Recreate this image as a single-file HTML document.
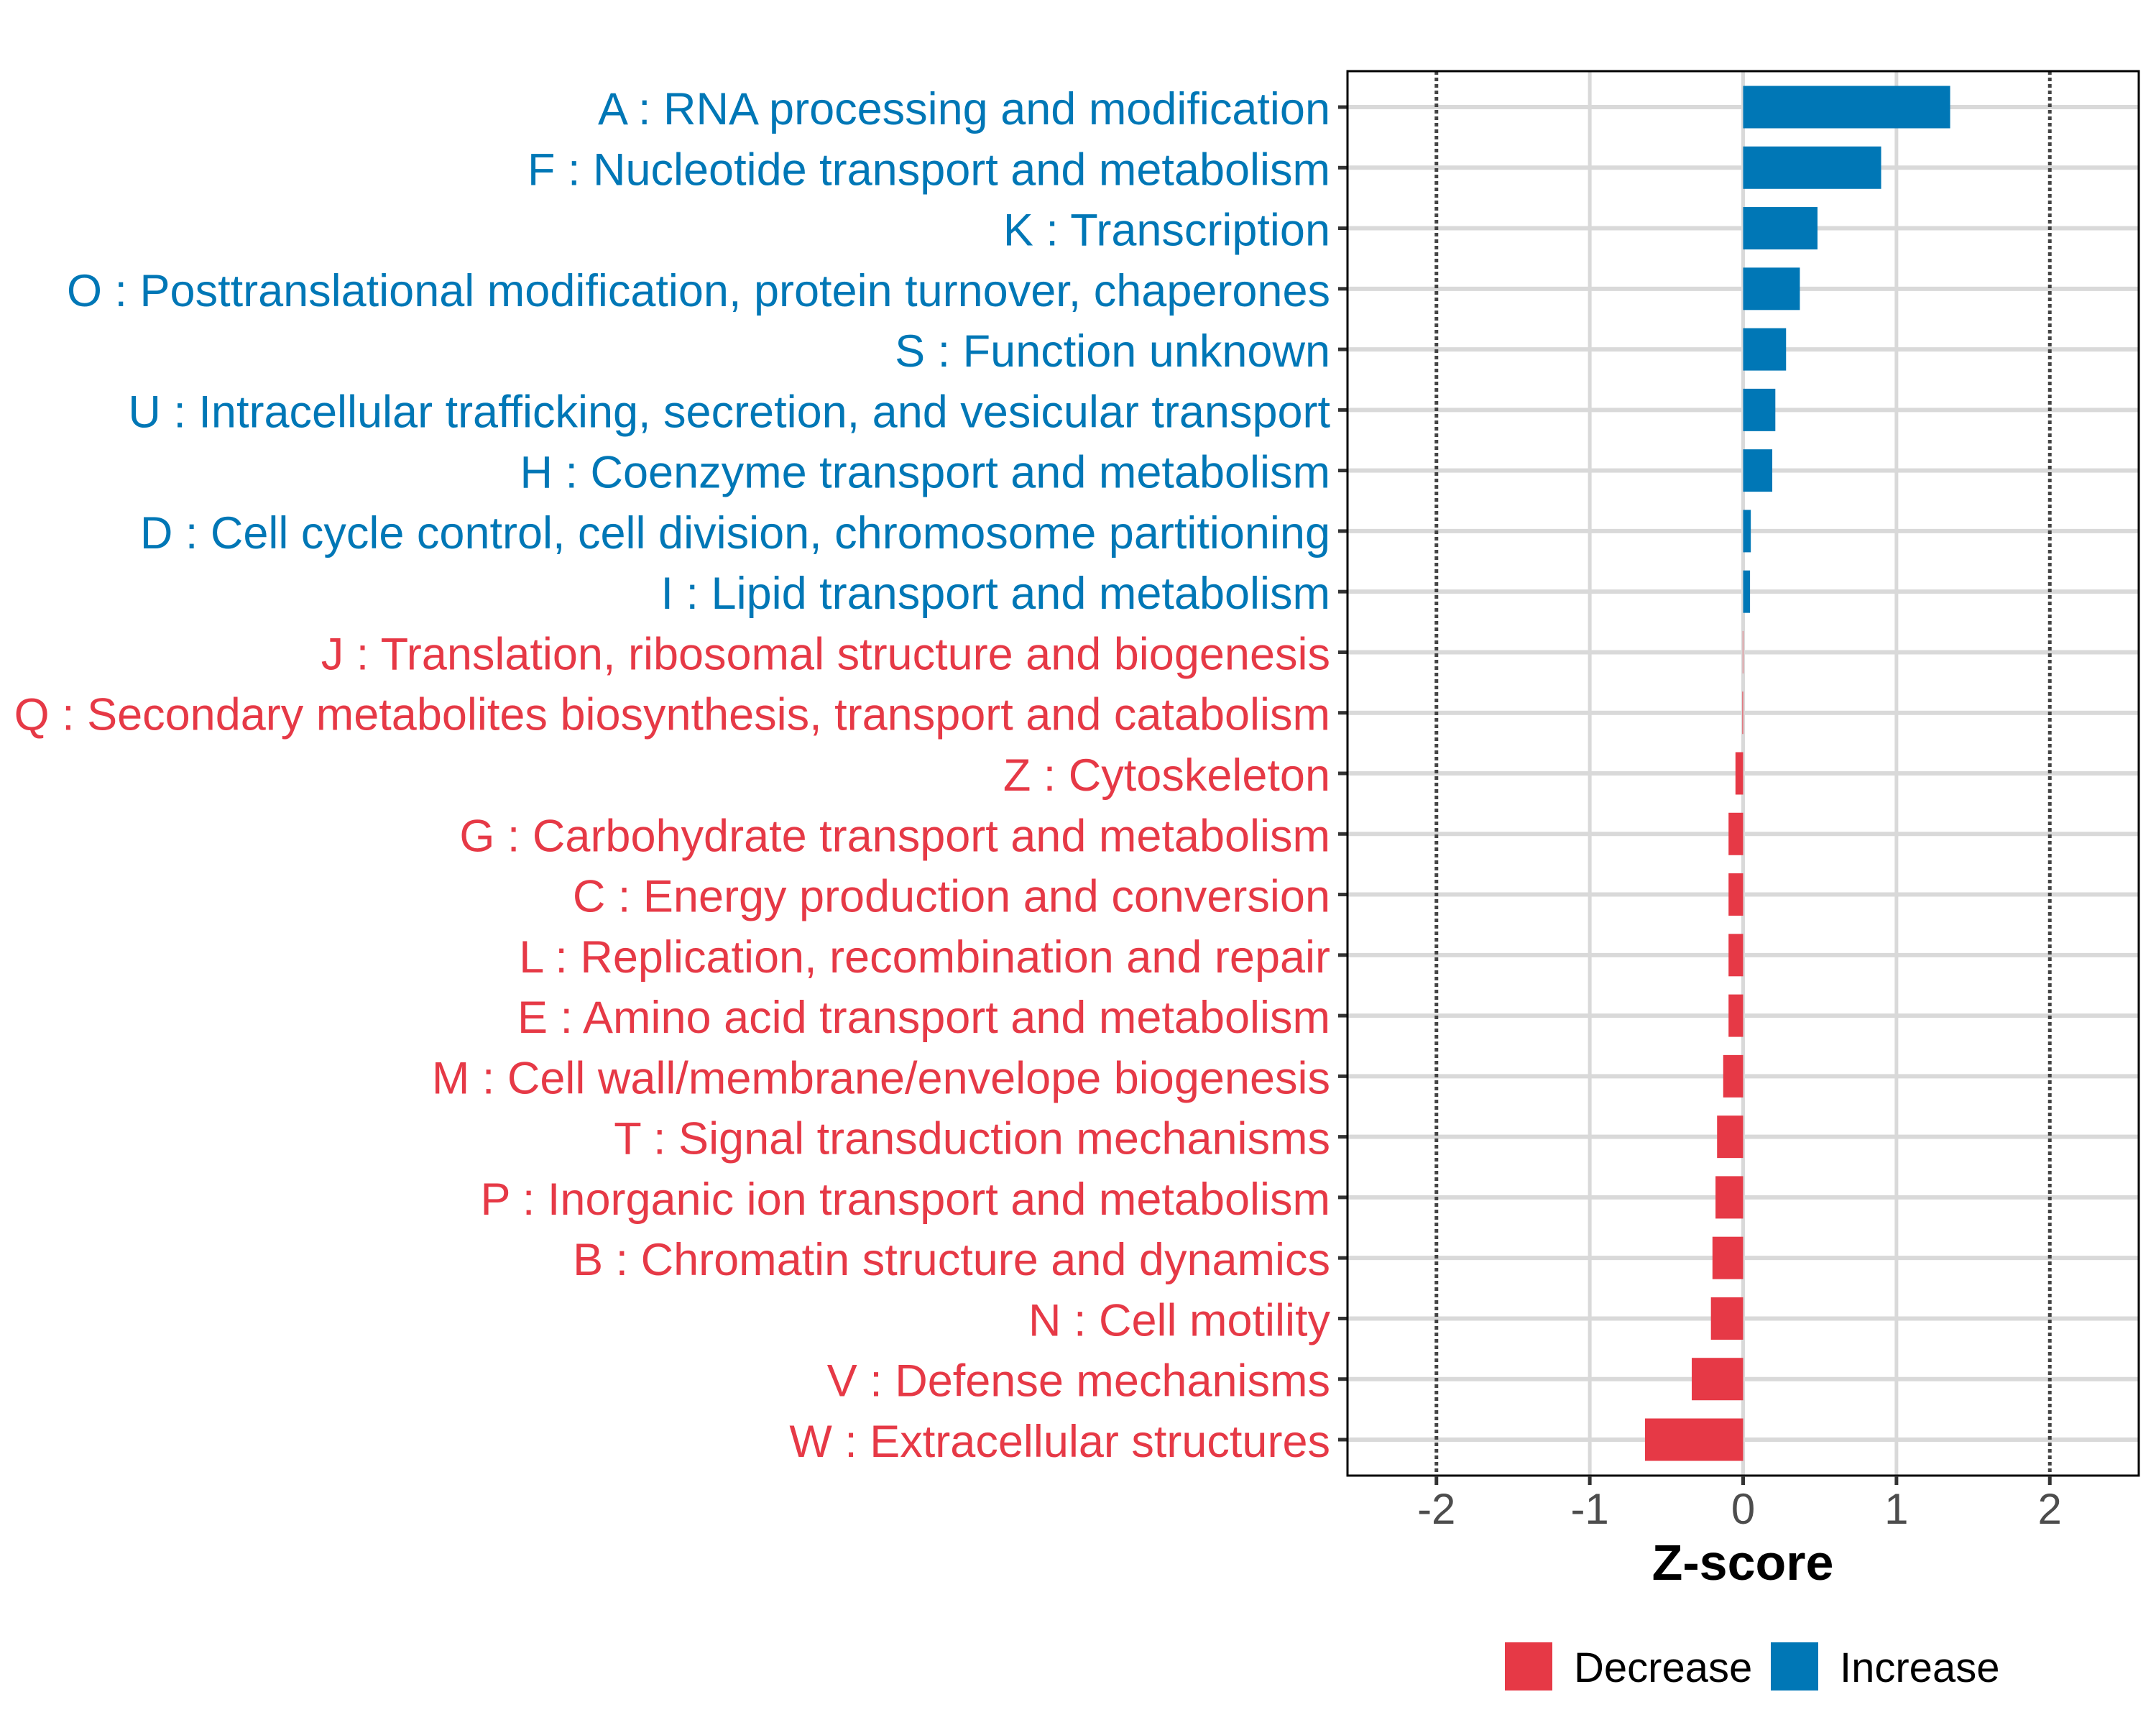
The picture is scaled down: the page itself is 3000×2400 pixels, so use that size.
<!DOCTYPE html>
<html><head><meta charset="utf-8"><style>
html,body{margin:0;padding:0;background:#fff;}
svg{display:block;font-family:"Liberation Sans",Arial,sans-serif;}
</style></head><body>
<svg id="chart" width="3000" height="2400" viewBox="0 0 3000 2400" xmlns="http://www.w3.org/2000/svg">
<rect width="3000" height="2400" fill="#fff"/>
<g id="grid"></g><g id="bars"></g><g id="axes"></g><g id="labels"></g>
<text x="2425" y="2198" font-size="70" font-weight="bold" text-anchor="middle" fill="#000">Z-score</text>
<g>
<rect x="2094" y="2285" width="66" height="67" fill="#E63946"/>
<text x="2190" y="2340" font-size="58" fill="#000">Decrease</text>
<rect x="2464" y="2285" width="66" height="67" fill="#0077B6"/>
<text x="2560" y="2340" font-size="58" fill="#000">Increase</text>
</g>
</svg>
<script>
const categories=["A : RNA processing and modification","F : Nucleotide transport and metabolism","K : Transcription","O : Posttranslational modification, protein turnover, chaperones","S : Function unknown","U : Intracellular trafficking, secretion, and vesicular transport","H : Coenzyme transport and metabolism","D : Cell cycle control, cell division, chromosome partitioning","I : Lipid transport and metabolism","J : Translation, ribosomal structure and biogenesis","Q : Secondary metabolites biosynthesis, transport and catabolism","Z : Cytoskeleton","G : Carbohydrate transport and metabolism","C : Energy production and conversion","L : Replication, recombination and repair","E : Amino acid transport and metabolism","M : Cell wall/membrane/envelope biogenesis","T : Signal transduction mechanisms","P : Inorganic ion transport and metabolism","B : Chromatin structure and dynamics","N : Cell motility","V : Defense mechanisms","W : Extracellular structures"];
const zscores=[1.35,0.90,0.485,0.37,0.28,0.21,0.19,0.05,0.045,-0.003,-0.005,-0.05,-0.095,-0.095,-0.095,-0.095,-0.13,-0.17,-0.18,-0.2,-0.21,-0.335,-0.64];
const xTicks=[-2,-1,0,1,2];
const xTickLabels=["-2","-1","0","1","2"];
const thresholds=[-2,2];

const NS="http://www.w3.org/2000/svg";
const L=1875,R=2976,T=99,B=2053;
const xMin=-2.58,xMax=2.58;
const X=v=>L+(v-xMin)/(xMax-xMin)*(R-L);
const step=(2003-149)/(categories.length-1);
const Y=i=>149+i*step;
const bandH=step*0.7;
function mk(tag,attrs,parent){const e=document.createElementNS(NS,tag);for(const k in attrs)e.setAttribute(k,attrs[k]);parent.appendChild(e);return e;}
const grid=document.getElementById('grid'),bars=document.getElementById('bars'),axes=document.getElementById('axes'),labels=document.getElementById('labels');
xTicks.forEach((t,i)=>{
  if(!thresholds.includes(t)){
    const g=mk('line',{x1:X(t),x2:X(t),y1:T,y2:B,stroke:'#d9d9d9','stroke-width':5},grid);
    
    
  }
});
categories.forEach((c,i)=>{
  const g=mk('line',{x1:L,x2:R,y1:Y(i),y2:Y(i),stroke:'#d9d9d9','stroke-width':6},grid);
  
  
});
thresholds.forEach(t=>{
  const d=mk('line',{x1:X(t),x2:X(t),y1:T,y2:B,stroke:'#444','stroke-width':5,'stroke-dasharray':'5 4'},grid);
  
  
});
zscores.forEach((v,i)=>{
  const x0=X(Math.min(0,v)),x1=X(Math.max(0,v));
  const col=v>=0?'#0077B6':'#E63946';
  const r=mk('rect',{x:x0,y:Y(i)-bandH/2,width:Math.max(x1-x0,0.5),height:bandH,fill:col},bars);
  
  
  const tk=mk('line',{x1:L-13,x2:L,y1:Y(i),y2:Y(i),stroke:'#333','stroke-width':5},axes);
  
  
  const tx=mk('text',{x:1851,y:Y(i)+24,'font-size':63,'text-anchor':'end',fill:col},labels);
  tx.textContent=categories[i];
  
  
});
const frame=mk('rect',{x:L,y:T,width:R-L,height:B-T,fill:'none',stroke:'#000','stroke-width':3},axes);


xTicks.forEach((t,i)=>{
  const tk=mk('line',{x1:X(t),x2:X(t),y1:B,y2:B+13,stroke:'#333','stroke-width':5},axes);
  
  
  const tl=mk('text',{x:X(t),y:2120,'font-size':60,'text-anchor':'middle',fill:'#4d4d4d'},labels);
  tl.textContent=xTickLabels[i];
  
  
});
</script>
</body></html>
